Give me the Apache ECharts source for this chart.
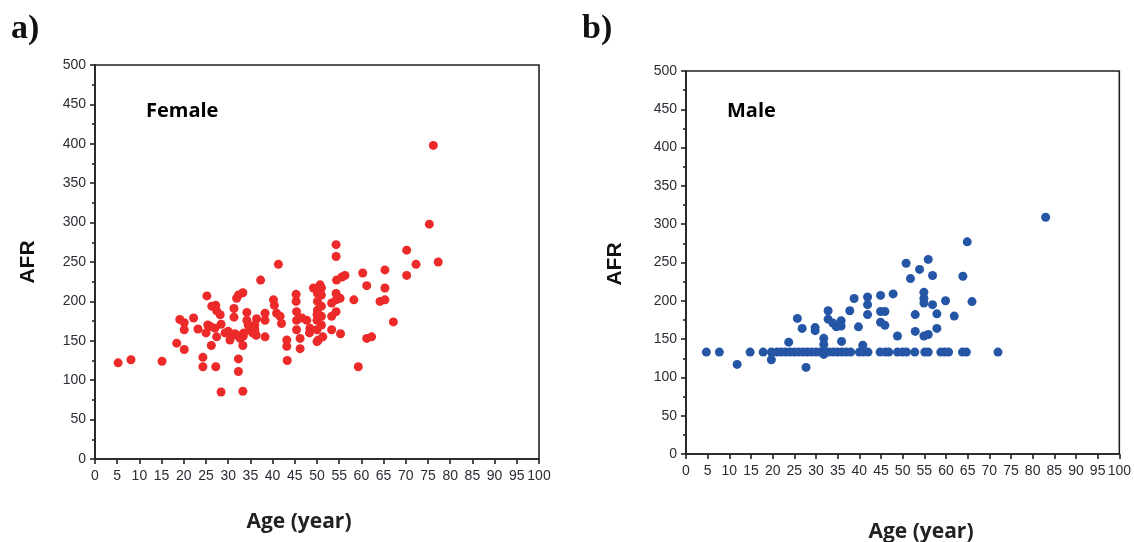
<!DOCTYPE html>
<html>
<head>
<meta charset="utf-8">
<title>AFR vs Age</title>
<script src="https://cdn.jsdelivr.net/npm/echarts@6/dist/echarts.min.js"></script>
<style>
  html, body { margin: 0; padding: 0; background: #fff; }
  #chart { width: 1134px; height: 542px; }
</style>
</head>
<body>
<div id="chart"></div>
<script>
// female panel (a)
var femaleAge = [5.2, 8.1, 15.1, 18.4, 19.1, 20.1, 20.1, 20.1, 22.2, 23.2, 24.3, 24.3, 25.2, 25.4, 26.2, 26.3,
  27.2, 27.4, 27.0, 27.4, 27.2, 28.2, 28.4, 28.4, 29.3, 30.0, 30.4, 31.3, 31.3, 31.5, 31.9, 32.3, 33.3, 32.3,
  32.3, 33.3, 33.3, 32.7, 33.4, 34.2, 34.2, 34.9, 36.0, 36.3, 36.4, 37.3, 38.3, 38.3, 38.3, 40.2, 40.4, 41.3,
  40.9, 41.7, 42.0, 43.2, 43.2, 43.3, 45.3, 45.3, 45.4, 45.4, 45.4, 46.2, 46.2, 46.6, 47.7, 48.4, 48.3, 49.2,
  50.1, 50.1, 50.1, 50.0, 50.0, 50.0, 50.7, 51.0, 51.0, 51.0, 51.0, 51.0, 51.3, 50.3, 53.3, 53.3, 53.3, 54.3,
  54.3, 54.4, 55.6, 56.3, 54.3, 54.3, 55.2, 54.3, 55.3, 58.3, 59.3, 60.3, 61.2, 61.2, 62.3, 64.2, 65.3, 65.3,
  65.3, 67.2, 70.2, 70.2, 72.3, 75.3, 76.2, 77.3, 50.0, 30.5, 32.0, 33.5, 34.5, 35.5, 36.0, 26.0, 25.0];
var femaleAFR = [122, 126, 124, 147, 177, 173, 164, 139, 179, 165, 129, 117, 207, 170, 144, 194,
  195, 188, 166, 155, 117, 183, 171, 85, 160, 162, 151, 191, 180, 159, 204, 208, 211, 127,
  111, 86, 144, 153, 156, 186, 176, 164, 164, 157, 178, 227, 185, 176, 155, 202, 195, 247,
  185, 181, 172, 151, 143, 125, 209, 200, 187, 176, 164, 153, 140, 179, 176, 166, 160, 217,
  210, 200, 189, 176, 164, 149, 221, 217, 208, 194, 181, 170, 155, 151, 198, 181, 164, 272,
  257, 227, 231, 233, 210, 202, 204, 187, 159, 202, 117, 236, 220, 153, 155, 200, 202, 217,
  240, 174, 265, 233, 247, 298, 398, 250, 183, 157, 157, 160, 170, 160, 170, 168, 160];

// male panel (b)
var maleAge = [4.7, 7.7, 11.8, 14.8, 17.8, 19.7, 19.7, 21, 22, 23, 24, 25, 26, 27, 28, 29, 30, 31, 32, 33,
  34, 35, 36, 37, 38, 40, 41, 42, 31.8, 23.7, 25.7, 26.8, 27.7, 29.8, 29.8, 31.8, 31.8, 32.8, 32.8, 33.9,
  34.7, 35.8, 35.8, 35.9, 37.8, 38.8, 39.8, 40.8, 41.9, 41.9, 41.9, 44.8, 44.9, 44.9, 44.9, 45.9, 45.9, 46,
  46.8, 47.8, 48.8, 48.8, 50, 50.9, 50.8, 51.8, 52.8, 52.9, 52.9, 53.9, 54.9, 54.9, 54.9, 54.9, 55.1, 55.9,
  55.9, 55.9, 56.9, 56.9, 57.9, 57.9, 58.8, 59.7, 60.6, 59.9, 61.9, 63.8, 64.7, 63.9, 64.9, 66, 72, 83];
var maleAFR = [133, 133, 117, 133, 133, 133, 123, 133, 133, 133, 133, 133, 133, 133, 133, 133, 133, 133, 133, 133,
  133, 133, 133, 133, 133, 133, 133, 133, 130, 146, 177, 164, 113, 165, 161, 151, 143, 187, 176, 171,
  166, 174, 167, 147, 187, 203, 166, 142, 205, 195, 182, 133, 207, 186, 172, 186, 168, 133,
  133, 209, 154, 133, 133, 133, 249, 229, 133, 182, 160, 241, 211, 203, 197, 154, 133, 133,
  254, 156, 233, 195, 183, 164, 133, 133, 133, 200, 180, 133, 133, 232, 277, 199, 133, 309];

var xTicks = {min: 0, max: 100, interval: 5};
var yTicks = {min: 0, max: 500, interval: 50};

function zip(a, b) {
  return a.map(function (v, i) { return [v, b[i]]; });
}

var myChart = echarts.init(document.getElementById('chart'));

var lineStyle = {color: '#222', width: 1.6};
var labelStyle = {color: '#2b2b33', fontSize: 14, fontFamily: 'Liberation Sans, Arial, sans-serif'};

function xAxis(idx) {
  return {
    type: 'value', gridIndex: idx, min: xTicks.min, max: xTicks.max, interval: xTicks.interval,
    axisLine: {show: true, onZero: false, lineStyle: lineStyle},
    axisTick: {show: true, length: 5, lineStyle: lineStyle},
    axisLabel: Object.assign({margin: 10}, labelStyle),
    splitLine: {show: false}
  };
}
function yAxis(idx) {
  return {
    type: 'value', gridIndex: idx, min: yTicks.min, max: yTicks.max, interval: yTicks.interval,
    axisLine: {show: true, onZero: false, lineStyle: lineStyle},
    axisTick: {show: true, length: 5, lineStyle: lineStyle},
    minorTick: {show: true, splitNumber: 2, length: 3, lineStyle: lineStyle},
    axisLabel: Object.assign({margin: 9}, labelStyle),
    splitLine: {show: false},
    minorSplitLine: {show: false}
  };
}

var option = {
  animation: false,
  backgroundColor: '#fff',
  grid: [
    {left: 95, top: 65, width: 444, height: 394, show: true, borderColor: '#222', borderWidth: 1.6},
    {left: 686, top: 71, width: 434, height: 383, show: true, borderColor: '#222', borderWidth: 1.6}
  ],
  xAxis: [xAxis(0), xAxis(1)],
  yAxis: [yAxis(0), yAxis(1)],
  series: [
    {
      name: 'Female', type: 'scatter', xAxisIndex: 0, yAxisIndex: 0,
      symbolSize: 9, itemStyle: {color: '#ec2a2a', opacity: 1},
      data: zip(femaleAge, femaleAFR)
    },
    {
      name: 'Male', type: 'scatter', xAxisIndex: 1, yAxisIndex: 1,
      symbolSize: 9, itemStyle: {color: '#2555a5', opacity: 1},
      data: zip(maleAge, maleAFR)
    }
  ],
  graphic: [
    {type: 'text', left: 11, top: 12, style: {text: 'a)', font: 'bold 34px "Liberation Serif", serif', fill: '#111'}},
    {type: 'text', left: 582, top: 12, style: {text: 'b)', font: 'bold 34px "Liberation Serif", serif', fill: '#111'}},
    {type: 'text', left: 146, top: 101, style: {text: 'Female', font: 'bold 20px "Open Sans", sans-serif', fill: '#000'}},
    {type: 'text', left: 727, top: 101, style: {text: 'Male', font: 'bold 20px "Open Sans", sans-serif', fill: '#000'}},
    {type: 'text', x: 28, y: 262, rotation: Math.PI / 2,
      style: {text: 'AFR', font: 'bold 21px "Liberation Sans", Arial, sans-serif', fill: '#111', align: 'center', verticalAlign: 'middle'}},
    {type: 'text', x: 615, y: 264, rotation: Math.PI / 2,
      style: {text: 'AFR', font: 'bold 21px "Liberation Sans", Arial, sans-serif', fill: '#111', align: 'center', verticalAlign: 'middle'}},
    {type: 'text', x: 299, y: 522,
      style: {text: 'Age (year)', font: 'bold 21px "Open Sans", sans-serif', fill: '#222', align: 'center', verticalAlign: 'middle'}},
    {type: 'text', x: 921, y: 532,
      style: {text: 'Age (year)', font: 'bold 21px "Open Sans", sans-serif', fill: '#222', align: 'center', verticalAlign: 'middle'}}
  ]
};

myChart.setOption(option);
</script>
</body>
</html>
